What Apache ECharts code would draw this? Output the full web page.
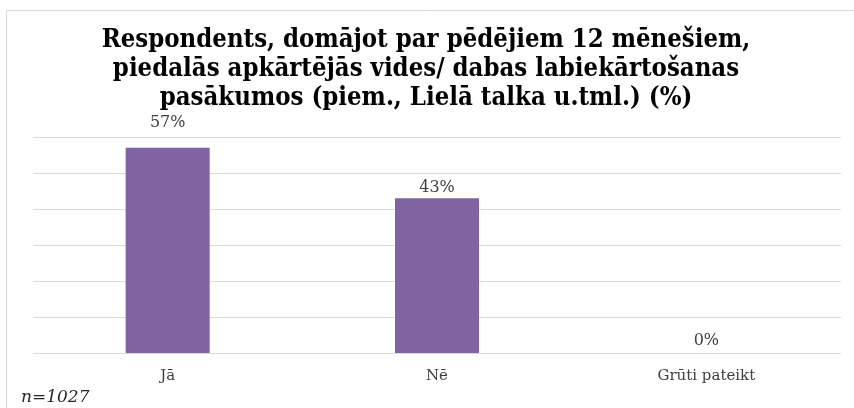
<!DOCTYPE html>
<html><head><meta charset="utf-8">
<script src="https://cdn.jsdelivr.net/npm/echarts@6/dist/echarts.min.js"></script>
<style>html,body{margin:0;padding:0;background:#fff}#c{width:854px;height:408px}</style>
</head><body><div id="c"></div>
<script>
var categories = ['Jā', 'Nē', 'Grūti pateikt'];
var values = [57, 43, 0];
var yTicks = [0, 10, 20, 30, 40, 50, 60];
var titleText = 'Respondents, domājot par pēdējiem 12 mēnešiem,\npiedalās apkārtējās vides/ dabas labiekārtošanas\npasākumos (piem., Lielā talka u.tml.) (%)';
var noteText = 'n=1027';
var labelDistances = [17, 2, 4];

var chart = echarts.init(document.getElementById('c'));
chart.setOption({
  backgroundColor: '#fff',
  animation: false,
  title: {
    text: titleText,
    left: 421, top: 21, textAlign: 'center',
    textStyle: { fontFamily: 'DejaVu Serif Condensed', fontWeight: 'bold', fontSize: 25.5, lineHeight: 29, color: '#000' }
  },
  graphic: [
    { type: 'rect', shape: { x: 6.5, y: 10.5, width: 900, height: 500 }, style: { fill: 'none', stroke: '#d9d9d9', lineWidth: 1 } },
    { type: 'text', left: 21, top: 389, style: { text: noteText, font: 'italic 17px "DejaVu Serif"', fill: '#262626' } }
  ],
  grid: { left: 33, right: 13, top: 137, bottom: 55 },
  xAxis: {
    type: 'category', data: categories,
    axisLine: { show: false }, axisTick: { show: false },
    axisLabel: { margin: 16, fontFamily: 'DejaVu Serif', fontSize: 15, color: '#404040' }
  },
  yAxis: {
    type: 'value', min: yTicks[0], max: yTicks[yTicks.length - 1], interval: 10,
    axisLabel: { show: false }, axisLine: { show: false }, axisTick: { show: false },
    splitLine: { lineStyle: { color: '#d9d9d9', width: 1 } }
  },
  series: [{
    type: 'bar',
    data: values.map(function (v, i) { return { value: v, label: { distance: labelDistances[i] } }; }),
    barWidth: 84,
    itemStyle: { color: '#8064A2' },
    label: {
      show: true, position: 'top',
      formatter: function (p) { return p.value + '%'; },
      fontFamily: 'DejaVu Serif', fontSize: 16, color: '#404040'
    }
  }]
});
</script></body></html>
